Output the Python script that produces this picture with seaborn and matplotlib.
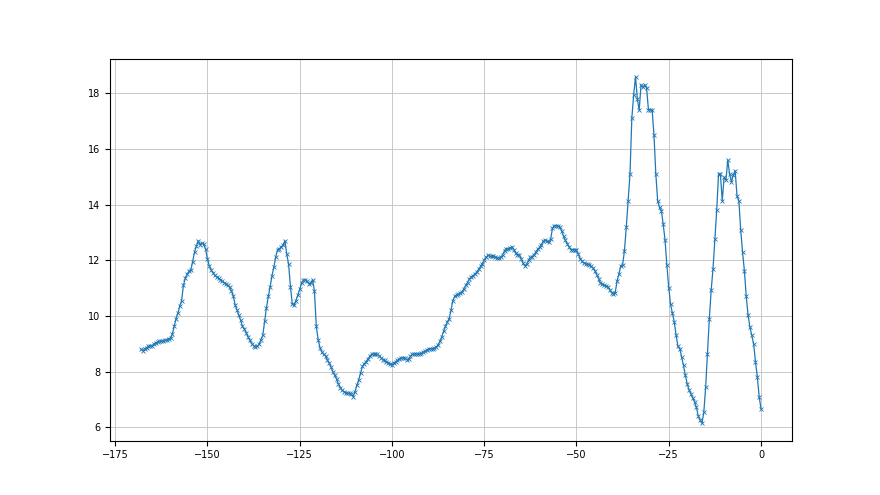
import numpy as np
import matplotlib
matplotlib.use("Agg")
import matplotlib.pyplot as plt
import seaborn as sns

# x grid: one sample every half unit, from -168 up to 0
x_start, x_end, x_step = -168, 0, 0.5

# readings
values = [
    # -168 .. -160
    8.80, 8.75, 8.82, 8.86, 8.90, 8.93, 8.92, 8.98, 9.04, 9.05, 9.08, 9.10, 9.10, 9.12, 9.14, 9.18, 9.20,
    # -159.5 .. -143
    9.35, 9.62, 9.90, 10.10, 10.35, 10.55, 11.10, 11.35, 11.50, 11.60,
    11.66, 11.95, 12.30, 12.50, 12.70, 12.56, 12.62, 12.58, 12.40, 12.05,
    11.80, 11.65, 11.56, 11.46, 11.40, 11.35, 11.30, 11.25, 11.20, 11.15,
    11.10, 11.03, 10.90, 10.72,
    # -142.5 .. -117.5
    10.40, 10.22, 10.02, 9.85, 9.62, 9.54, 9.40, 9.25, 9.12, 9.00,
    8.93, 8.88, 8.90, 8.98, 9.14, 9.30, 9.80, 10.30, 10.70, 11.05,
    11.45, 11.75, 12.12, 12.38, 12.42, 12.48, 12.55, 12.70, 12.22, 11.85,
    11.05, 10.42, 10.40, 10.55, 10.75, 10.95, 11.18, 11.28, 11.30, 11.25,
    11.15, 11.20, 11.30, 10.88, 9.62, 9.15, 8.86, 8.70, 8.62, 8.56,
    8.42,
    # -117 .. -91
    8.30, 8.15, 8.00, 7.86, 7.72, 7.55, 7.42, 7.33, 7.27, 7.24,
    7.22, 7.21, 7.18, 7.10, 7.28, 7.50, 7.70, 7.95, 8.18, 8.28,
    8.35, 8.45, 8.55, 8.62, 8.63, 8.62, 8.62, 8.57, 8.50, 8.43,
    8.40, 8.35, 8.32, 8.28, 8.25, 8.30, 8.35, 8.40, 8.45, 8.48,
    8.50, 8.48, 8.43, 8.45, 8.55, 8.62, 8.63, 8.62, 8.63, 8.64,
    8.65, 8.70, 8.72,
    # -90.5 .. -72.5
    8.78, 8.82, 8.82, 8.80, 8.84, 8.88, 8.96, 9.08, 9.25, 9.45,
    9.62, 9.78, 9.90, 10.20, 10.55, 10.70, 10.75, 10.78, 10.82, 10.86,
    10.98, 11.10, 11.20, 11.33, 11.40, 11.45, 11.50, 11.58, 11.68, 11.78,
    11.88, 12.00, 12.10, 12.18, 12.15, 12.14, 12.16,
    # -72 .. -44
    12.12, 12.08, 12.08, 12.10, 12.20, 12.35, 12.42, 12.42, 12.44, 12.48,
    12.38, 12.26, 12.20, 12.20, 12.06, 11.90, 11.80, 11.86, 12.00, 12.10,
    12.12, 12.20, 12.30, 12.40, 12.46, 12.56, 12.68, 12.72, 12.68, 12.64,
    12.75, 13.16, 13.24, 13.24, 13.22, 13.20, 13.04, 12.86, 12.72, 12.60,
    12.48, 12.38, 12.38, 12.38, 12.36, 12.22, 12.06, 11.96, 11.90, 11.88,
    11.86, 11.84, 11.78, 11.72, 11.62, 11.48, 11.34,
    # -43.5 .. -17
    11.17, 11.14, 11.10, 11.08, 11.05, 10.94, 10.84, 10.80, 10.84, 11.25,
    11.50, 11.80, 11.84, 12.34, 13.20, 14.14, 15.10, 17.11, 17.95, 18.60,
    17.79, 17.41, 18.31, 18.22, 18.31, 18.19, 17.41, 17.41, 17.41, 16.50,
    15.10, 14.14, 13.90, 13.78, 13.30, 12.72, 11.82, 11.02, 10.41, 10.10,
    9.78, 9.30, 8.90, 8.82, 8.52, 8.22, 7.86, 7.56, 7.34, 7.20,
    7.05, 6.90, 6.71, 6.40,
    # -16.5 .. 0
    6.26, 6.14, 6.53, 7.43, 8.64, 9.90, 10.92, 11.70, 12.78, 13.80,
    15.10, 15.10, 14.14, 14.98, 14.88, 15.60, 15.10, 14.82, 15.06, 15.22,
    14.31, 14.14, 13.10, 12.30, 11.62, 10.70, 10.02, 9.60, 9.30, 9.00,
    8.35, 7.82, 7.10, 6.66,
]

x = np.arange(x_start, x_end + x_step / 2, x_step)

fig, ax = plt.subplots(figsize=(8.8, 4.95), dpi=100)
sns.lineplot(x=x, y=values, ax=ax, color="#1f77b4", linewidth=0.9,
             marker="x", markersize=3.5, markeredgewidth=0.6,
             markeredgecolor="#1f77b4")
ax.grid(True, color="#c0c0c0", linewidth=0.6)
ax.tick_params(labelsize=7)
fig.savefig("out.png", dpi=100)
